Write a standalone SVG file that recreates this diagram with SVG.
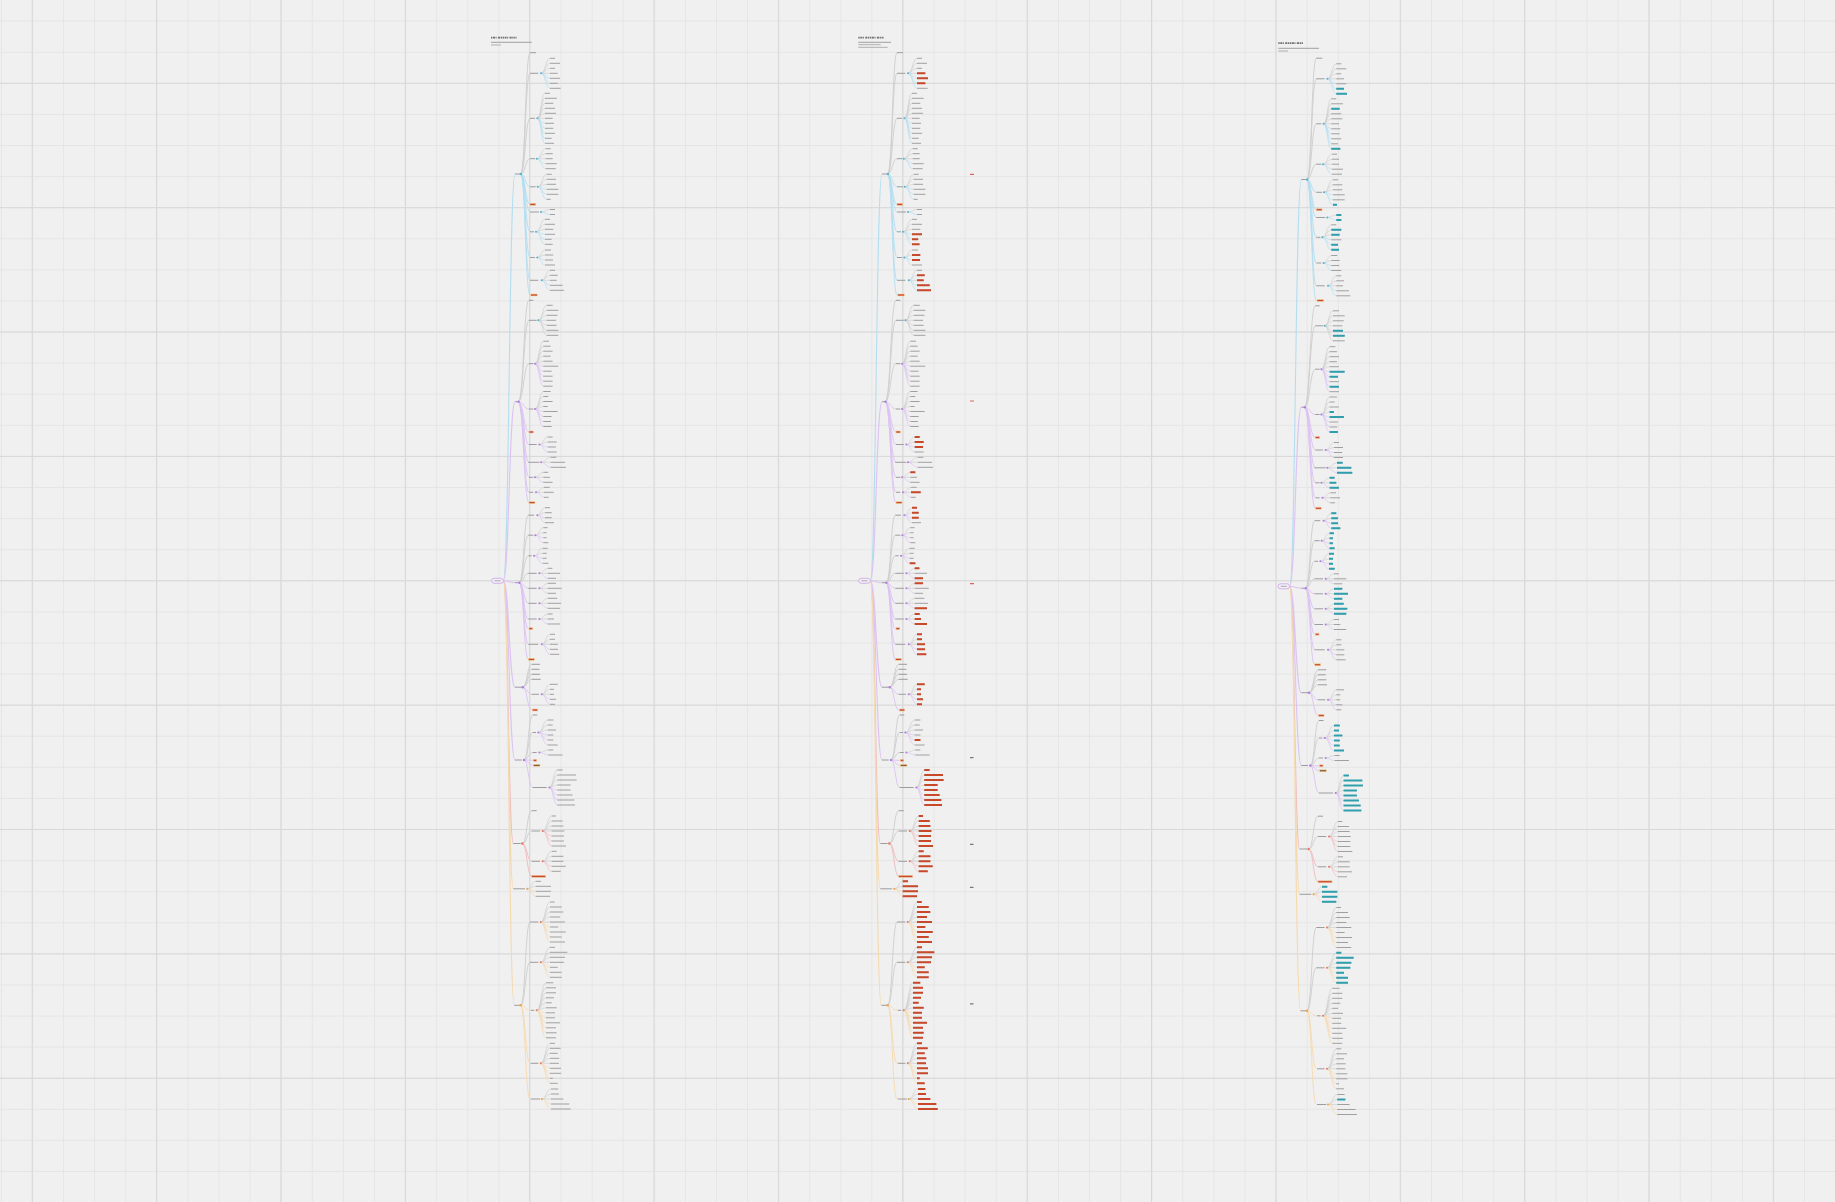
<svg xmlns="http://www.w3.org/2000/svg" width="1835" height="1202" viewBox="0 0 1835 1202">
<style>
.lf{fill:none;stroke:#a0a0a0;stroke-width:1}
.lb{fill:none;stroke:#939393;stroke-width:0.9}
.c0{fill:none;stroke-width:1.1}
.c1{fill:none;stroke-width:0.95}
.c2{fill:none;stroke-width:0.7}
.g{stroke:#cfcfcf}
.b{stroke:#b4def0}
.p{stroke:#dcc3f2}
.r{stroke:#efbcc0}
.o{stroke:#f5dab0}
.dB{fill:#4db6d6}.dP{fill:#b07ee2}.dR{fill:#e57a62}.dO{fill:#efa24e}
.hl{fill:#c94a2b;stroke:#f2c8a0;stroke-width:0.6}
.ttl{fill:none;stroke:#707070;stroke-width:1.7;stroke-dasharray:1.4 .6 2 .6 1 1.3 2.2 .6 1.3 .6}
.ul{stroke:#8a8a8a;stroke-width:0.8;fill:none}
.ul2{stroke:#b0b0b0;stroke-width:1;fill:none}
.red{fill:none;stroke:#c8482a;stroke-width:2}
.teal{fill:none;stroke:#2f9fae;stroke-width:2}
</style>
<defs>
<pattern id="gMinor" width="31.09" height="31.09" patternUnits="userSpaceOnUse" x="0.9" y="20.66"><path d="M0.5 0V31.09M0 0.5H31.09" stroke="#e5e5e5" stroke-width="1" fill="none"/></pattern>
<pattern id="gMajor" width="124.37" height="124.37" patternUnits="userSpaceOnUse" x="31.7" y="82.8"><path d="M0.5 0V124.37M0 0.5H124.37" stroke="#d8d8d8" stroke-width="1.2" fill="none"/></pattern>
<g id="tree">
<g id="t-connectors">
<path class="c0 b" d="M503.3 580.8c5.85 0 5.85-406.8 11.7-406.8"/>
<path class="c0 p" d="M503.3 580.8c5.85 0 5.85-179.1 11.7-179.1M503.3 580.8c5.85 0 5.85 1.9 11.7 1.9M503.3 580.8c5.85 0 5.85 106.4 11.7 106.4M503.3 580.8c5.85 0 5.85 179.2 11.7 179.2"/>
<path class="c0 r" d="M503.3 580.8c5 0 5 262.7 10 262.7"/>
<path class="c0 o" d="M503.3 580.8c5 0 5 308 10 308M503.3 580.8c5.5 0 5.5 424.5 11 424.5"/>
<path class="c1 g" d="M520.7 174c4.65 0 4.65-121.3 9.3-121.3M520.7 174c4.65 0 4.65-100.7 9.3-100.7M520.7 174c4.65 0 4.65-55.7 9.3-55.7M520.7 174c4.65 0 4.65-15.3 9.3-15.3M518.3 401.7c5.35 0 5.35-101.4 10.7-101.4M518.3 401.7c5.35 0 5.35-81.4 10.7-81.4M518.3 401.7c5.35 0 5.35-38 10.7-38M519.3 582.7c4.5 0 4.5-67.5 9-67.5M519.3 582.7c4.5 0 4.5-47.5 9-47.5M519.3 582.7c4.5 0 4.5-26.9 9-26.9M519.3 582.7c4.5 0 4.5-9.4 9-9.4M522.7 687.2c4.5 0 4.5-22.9 9-22.9M522.7 687.2c4.5 0 4.5-17.9 9-17.9M522.7 687.2c4.5 0 4.5-12.9 9-12.9M522.7 687.2c4.5 0 4.5-7.9 9-7.9M524 760c4.35 0 4.35-45 8.7-45M524 760c4.35 0 4.35-27.5 8.7-27.5M524 760c4.35 0 4.35-7.5 8.7-7.5M522.3 843.5c4.7 0 4.7-32.8 9.4-32.8M522.3 843.5c4.7 0 4.7-12.5 9.4-12.5M520.7 1005.3c4.65 0 4.65-83.3 9.3-83.3M520.7 1005.3c4.65 0 4.65-43 9.3-43"/>
<path class="c1 b" d="M520.7 174c4.65 0 4.65 12.8 9.3 12.8M520.7 174c4.65 0 4.65 30.3 9.3 30.3M520.7 174c4.65 0 4.65 38 9.3 38M520.7 174c4.65 0 4.65 57.8 9.3 57.8M520.7 174c4.65 0 4.65 83.5 9.3 83.5M520.7 174c4.65 0 4.65 106.3 9.3 106.3M520.7 174c4.65 0 4.65 121 9.3 121"/>
<path class="c1 p" d="M518.3 401.7c5.35 0 5.35 7.3 10.7 7.3M518.3 401.7c5.35 0 5.35 30.3 10.7 30.3M518.3 401.7c5.35 0 5.35 42.8 10.7 42.8M518.3 401.7c5.35 0 5.35 60.6 10.7 60.6M518.3 401.7c5.35 0 5.35 75.6 10.7 75.6M518.3 401.7c5.35 0 5.35 90.6 10.7 90.6M518.3 401.7c5.35 0 5.35 101 10.7 101M519.3 582.7c4.5 0 4.5 5.6 9 5.6M519.3 582.7c4.5 0 4.5 20.6 9 20.6M519.3 582.7c4.5 0 4.5 36.3 9 36.3M519.3 582.7c4.5 0 4.5 46 9 46M519.3 582.7c4.5 0 4.5 61.6 9 61.6M519.3 582.7c4.5 0 4.5 76.6 9 76.6M522.7 687.2c4.5 0 4.5 7.1 9 7.1M522.7 687.2c4.5 0 4.5 22.8 9 22.8M524 760c4.35 0 4.35 0.3 8.7 0.3M524 760c4.35 0 4.35 5.3 8.7 5.3M524 760c4.35 0 4.35 27.5 8.7 27.5"/>
<path class="c1 r" d="M522.3 843.5c4.7 0 4.7 17.8 9.4 17.8M522.3 843.5c4.7 0 4.7 32.8 9.4 32.8"/>
<path class="c1 o" d="M520.7 1005.3c4.65 0 4.65 5 9.3 5M520.7 1005.3c4.65 0 4.65 58 9.3 58M520.7 1005.3c4.65 0 4.65 93.7 9.3 93.7"/>
<path class="c2 g" d="M541 73.3c4.5 0 4.5-15 9-15M541 73.3c4.5 0 4.5-10 9-10M541 73.3c4.5 0 4.5-5 9-5M541 73.3h9M537.3 118.3c3.85 0 3.85-25 7.7-25M537.3 118.3c3.85 0 3.85-20 7.7-20M537.3 118.3c3.85 0 3.85-15 7.7-15M537.3 118.3c3.85 0 3.85-10 7.7-10M537.3 118.3c3.85 0 3.85-5 7.7-5M537.3 118.3h7.7M536.7 158.7c4.5 0 4.5-10 9-10M536.7 158.7c4.5 0 4.5-5 9-5M536.7 158.7h9M537.7 186.8c4.5 0 4.5-12.5 9-12.5M537.7 186.8c4.5 0 4.5-7.5 9-7.5M537.7 186.8c4.5 0 4.5-2.5 9-2.5M541 212c4.5 0 4.5-2.5 9-2.5M536 231.8c4.5 0 4.5-12.5 9-12.5M536 231.8c4.5 0 4.5-7.5 9-7.5M536 231.8c4.5 0 4.5-2.5 9-2.5M537.3 257.5c3.85 0 3.85-7.5 7.7-7.5M537.3 257.5c3.85 0 3.85-2.5 7.7-2.5M541.7 280.3c4.15 0 4.15-10 8.3-10M541.7 280.3c4.15 0 4.15-5 8.3-5M541.7 280.3h8.3
M538.3 320.3c4.2 0 4.2-15 8.4-15M538.3 320.3c4.2 0 4.2-10 8.4-10M538.3 320.3c4.2 0 4.2-5 8.4-5M538.3 320.3h8.4M538.3 320.3c4.2 0 4.2 5 8.4 5M538.3 320.3c4.2 0 4.2 10 8.4 10M538.3 320.3c4.2 0 4.2 15 8.4 15M535 363.7c4.15 0 4.15-22.5 8.3-22.5M535 363.7c4.15 0 4.15-17.5 8.3-17.5M535 363.7c4.15 0 4.15-12.5 8.3-12.5M535 363.7c4.15 0 4.15-7.5 8.3-7.5M535 363.7c4.15 0 4.15-2.5 8.3-2.5M535 409c4.15 0 4.15-17.5 8.3-17.5M535 409c4.15 0 4.15-12.5 8.3-12.5M535 409c4.15 0 4.15-7.5 8.3-7.5M535 409c4.15 0 4.15-2.5 8.3-2.5M539.3 444.5c4.2 0 4.2-7.5 8.4-7.5M539.3 444.5c4.2 0 4.2-2.5 8.4-2.5M541 462.3c4.85 0 4.85-5 9.7-5M541 462.3h9.7M535 477.3c4.15 0 4.15-5 8.3-5M535 477.3h8.3M536 492.3c4 0 4-5 8-5M536 492.3h8
M537.3 515.2c3.85 0 3.85-7.5 7.7-7.5M537.3 515.2c3.85 0 3.85-2.5 7.7-2.5M535.3 535.2c4 0 4-7.5 8-7.5M535.3 535.2c4 0 4-2.5 8-2.5M534 555.8c4.35 0 4.35-7.5 8.7-7.5M534 555.8c4.35 0 4.35-2.5 8.7-2.5M539.3 573.3c4.2 0 4.2-5 8.4-5M539.3 573.3h8.4M539.3 588.3c4.2 0 4.2-5 8.4-5M539.3 588.3h8.4M539.3 603.3c4.2 0 4.2-5 8.4-5M539.3 603.3h8.4M539.3 619c4.2 0 4.2-5 8.4-5M539.3 619h8.4M541.7 644.3c4.15 0 4.15-10 8.3-10M541.7 644.3c4.15 0 4.15-5 8.3-5M541.7 644.3h8.3
M541.7 694.3c4.15 0 4.15-10 8.3-10M541.7 694.3c4.15 0 4.15-5 8.3-5M541.7 694.3h8.3M538.3 732.5c4.7 0 4.7-12.5 9.4-12.5M538.3 732.5c4.7 0 4.7-7.5 9.4-7.5M538.3 732.5c4.7 0 4.7-2.5 9.4-2.5M539.3 752.5c4.5 0 4.5-2.5 9-2.5M549.3 787.5c4 0 4-17.5 8-17.5M549.3 787.5c4 0 4-12.5 8-12.5M549.3 787.5c4 0 4-7.5 8-7.5M549.3 787.5c4 0 4-2.5 8-2.5
M542.7 831c4.5 0 4.5-15 9-15M542.7 831c4.5 0 4.5-10 9-10M542.7 831c4.5 0 4.5-5 9-5M542.7 831h9M542.7 861.3c4.5 0 4.5-10 9-10M542.7 861.3c4.5 0 4.5-5 9-5M542.7 861.3h9M527.3 888.8c4.2 0 4.2-7.5 8.4-7.5M527.3 888.8c4.2 0 4.2-2.5 8.4-2.5
M540.7 922c4.65 0 4.65-20 9.3-20M540.7 922c4.65 0 4.65-15 9.3-15M540.7 922c4.65 0 4.65-10 9.3-10M540.7 922c4.65 0 4.65-5 9.3-5M540.7 922h9.3M540.7 962.3c4.65 0 4.65-15 9.3-15M540.7 962.3c4.65 0 4.65-10 9.3-10M540.7 962.3c4.65 0 4.65-5 9.3-5M540.7 962.3h9.3M536.7 1010.3c4.65 0 4.65-27.5 9.3-27.5M536.7 1010.3c4.65 0 4.65-22.5 9.3-22.5M536.7 1010.3c4.65 0 4.65-17.5 9.3-17.5M536.7 1010.3c4.65 0 4.65-12.5 9.3-12.5M536.7 1010.3c4.65 0 4.65-7.5 9.3-7.5M536.7 1010.3c4.65 0 4.65-2.5 9.3-2.5M540.7 1063.3c4.65 0 4.65-20 9.3-20M540.7 1063.3c4.65 0 4.65-15 9.3-15M540.7 1063.3c4.65 0 4.65-10 9.3-10M540.7 1063.3c4.65 0 4.65-5 9.3-5M540.7 1063.3h9.3M541.7 1099c4.65 0 4.65-10 9.3-10M541.7 1099c4.65 0 4.65-5 9.3-5M541.7 1099h9.3"/>
<path class="c2 b" d="M541 73.3c4.5 0 4.5 5 9 5M541 73.3c4.5 0 4.5 10 9 10M541 73.3c4.5 0 4.5 15 9 15M537.3 118.3c3.85 0 3.85 5 7.7 5M537.3 118.3c3.85 0 3.85 10 7.7 10M537.3 118.3c3.85 0 3.85 15 7.7 15M537.3 118.3c3.85 0 3.85 20 7.7 20M537.3 118.3c3.85 0 3.85 25 7.7 25M536.7 158.7c4.5 0 4.5 5 9 5M536.7 158.7c4.5 0 4.5 10 9 10M537.7 186.8c4.5 0 4.5 2.5 9 2.5M537.7 186.8c4.5 0 4.5 7.5 9 7.5M537.7 186.8c4.5 0 4.5 12.5 9 12.5M541 212c4.5 0 4.5 2.5 9 2.5M536 231.8c4.5 0 4.5 2.5 9 2.5M536 231.8c4.5 0 4.5 7.5 9 7.5M536 231.8c4.5 0 4.5 12.5 9 12.5M537.3 257.5c3.85 0 3.85 2.5 7.7 2.5M537.3 257.5c3.85 0 3.85 7.5 7.7 7.5M541.7 280.3c4.15 0 4.15 5 8.3 5M541.7 280.3c4.15 0 4.15 10 8.3 10"/>
<path class="c2 p" d="M535 363.7c4.15 0 4.15 2.5 8.3 2.5M535 363.7c4.15 0 4.15 7.5 8.3 7.5M535 363.7c4.15 0 4.15 12.5 8.3 12.5M535 363.7c4.15 0 4.15 17.5 8.3 17.5M535 363.7c4.15 0 4.15 22.5 8.3 22.5M535 409c4.15 0 4.15 2.5 8.3 2.5M535 409c4.15 0 4.15 7.5 8.3 7.5M535 409c4.15 0 4.15 12.5 8.3 12.5M535 409c4.15 0 4.15 17.5 8.3 17.5M539.3 444.5c4.2 0 4.2 2.5 8.4 2.5M539.3 444.5c4.2 0 4.2 7.5 8.4 7.5M541 462.3c4.85 0 4.85 5 9.7 5M535 477.3c4.15 0 4.15 5 8.3 5M536 492.3c4 0 4 5 8 5
M537.3 515.2c3.85 0 3.85 2.5 7.7 2.5M537.3 515.2c3.85 0 3.85 7.5 7.7 7.5M535.3 535.2c4 0 4 2.5 8 2.5M535.3 535.2c4 0 4 7.5 8 7.5M534 555.8c4.35 0 4.35 2.5 8.7 2.5M534 555.8c4.35 0 4.35 7.5 8.7 7.5M539.3 573.3c4.2 0 4.2 5 8.4 5M539.3 588.3c4.2 0 4.2 5 8.4 5M539.3 603.3c4.2 0 4.2 5 8.4 5M539.3 619c4.2 0 4.2 5 8.4 5M541.7 644.3c4.15 0 4.15 5 8.3 5M541.7 644.3c4.15 0 4.15 10 8.3 10
M541.7 694.3c4.15 0 4.15 5 8.3 5M541.7 694.3c4.15 0 4.15 10 8.3 10M538.3 732.5c4.7 0 4.7 2.5 9.4 2.5M538.3 732.5c4.7 0 4.7 7.5 9.4 7.5M538.3 732.5c4.7 0 4.7 12.5 9.4 12.5M539.3 752.5c4.5 0 4.5 2.5 9 2.5M549.3 787.5c4 0 4 2.5 8 2.5M549.3 787.5c4 0 4 7.5 8 7.5M549.3 787.5c4 0 4 12.5 8 12.5M549.3 787.5c4 0 4 17.5 8 17.5"/>
<path class="c2 r" d="M542.7 831c4.5 0 4.5 5 9 5M542.7 831c4.5 0 4.5 10 9 10M542.7 831c4.5 0 4.5 15 9 15M542.7 861.3c4.5 0 4.5 5 9 5M542.7 861.3c4.5 0 4.5 10 9 10"/>
<path class="c2 o" d="M527.3 888.8c4.2 0 4.2 2.5 8.4 2.5M527.3 888.8c4.2 0 4.2 7.5 8.4 7.5M540.7 922c4.65 0 4.65 5 9.3 5M540.7 922c4.65 0 4.65 10 9.3 10M540.7 922c4.65 0 4.65 15 9.3 15M540.7 922c4.65 0 4.65 20 9.3 20M540.7 962.3c4.65 0 4.65 5 9.3 5M540.7 962.3c4.65 0 4.65 10 9.3 10M540.7 962.3c4.65 0 4.65 15 9.3 15M536.7 1010.3c4.65 0 4.65 2.5 9.3 2.5M536.7 1010.3c4.65 0 4.65 7.5 9.3 7.5M536.7 1010.3c4.65 0 4.65 12.5 9.3 12.5M536.7 1010.3c4.65 0 4.65 17.5 9.3 17.5M536.7 1010.3c4.65 0 4.65 22.5 9.3 22.5M536.7 1010.3c4.65 0 4.65 27.5 9.3 27.5M540.7 1063.3c4.65 0 4.65 5 9.3 5M540.7 1063.3c4.65 0 4.65 10 9.3 10M540.7 1063.3c4.65 0 4.65 15 9.3 15M540.7 1063.3c4.65 0 4.65 20 9.3 20M541.7 1099c4.65 0 4.65 5 9.3 5M541.7 1099c4.65 0 4.65 10 9.3 10"/>
</g>
<g id="t-root"><rect x="491.7" y="578.3" width="11.6" height="5" rx="2.5" fill="#f3eef7" stroke="#c9a3e6" stroke-width="0.8"/><path d="M494.3 580.8h6.3" stroke="#ababab" stroke-width="1"/></g>
<g id="t-A"><path class="lb" d="M515 174h5"/><circle class="dB" cx="520.9" cy="174" r="1.2"/></g>
<g id="t-A1"><path class="lb" d="M530 52.7h6"/></g>
<g id="t-A2"><path class="lb" d="M530 73.3h8.3"/><circle class="dB" cx="541" cy="73.3" r="1"/><path class="lf" d="M550 58.3h5M550 63.3h10M550 68.3h5M550 73.3h7.7M550 78.3h10M550 83.3h7.7M550 88.3h10.7"/></g>
<g id="t-A3"><path class="lb" d="M530 118.3h5"/><circle class="dB" cx="537.3" cy="118.3" r="1"/><path class="lf" d="M545 93.3h5M545 98.3h11.7M545 103.3h8.3M545 108.3h10M545 113.3h11M545 118.3h7.7M545 123.3h9M545 128.3h8.3M545 133.3h10M545 138.3h6.7M545 143.3h9"/></g>
<g id="t-A4"><path class="lb" d="M530 158.7h5"/><circle class="dB" cx="536.7" cy="158.7" r="1"/><path class="lf" d="M545.7 148.7h5M545.7 153.7h7M545.7 158.7h7M545.7 163.7h11M545.7 168.7h10"/></g>
<g id="t-A5"><path class="lb" d="M530 186.8h5.7"/><circle class="dB" cx="537.7" cy="186.8" r="1"/><path class="lf" d="M546.7 174.3h5M546.7 179.3h9.3M546.7 184.3h9.3M546.7 189.3h11.7M546.7 194.3h11.7M546.7 199.3h4"/></g>
<g id="t-A6"><rect class="hl" x="530" y="203.3" width="5.7" height="2"/></g>
<g id="t-A7"><path class="lb" d="M530 212h9"/><circle class="dB" cx="541" cy="212" r="1"/><path class="lf" d="M550 209.5h5M550 214.5h5"/></g>
<g id="t-A8"><path class="lb" d="M530 231.8h4"/><circle class="dB" cx="536" cy="231.8" r="1"/><path class="lf" d="M545 219.3h5M545 224.3h10M545 229.3h8.3M545 234.3h10M545 239.3h6.7M545 244.3h7.7"/></g>
<g id="t-A9"><path class="lb" d="M530 257.5h5"/><circle class="dB" cx="537.3" cy="257.5" r="1"/><path class="lf" d="M545 250h6M545 255h8.3M545 260h8M545 265h10"/></g>
<g id="t-A10"><path class="lb" d="M530 280.3h8.3"/><circle class="dB" cx="541.7" cy="280.3" r="1"/><path class="lf" d="M550 270.3h5M550 275.3h7.7M550 280.3h6.7M550 285.3h12.7M550 290.3h14"/></g>
<g id="t-A11"><rect class="hl" x="530.7" y="294" width="6.6" height="2" style="stroke:#f5d9a0"/></g>
<g id="t-B"><path class="lb" d="M515 401.7h2.7"/><circle class="dP" cx="518.5" cy="401.7" r="1.2"/></g>
<g id="t-B1"><path class="lb" d="M529 300.3h4.3"/></g>
<g id="t-B2"><path class="lb" d="M529 320.3h7.7"/><circle class="dB" cx="538.3" cy="320.3" r="1"/><path class="lf" d="M546.7 305.3h6M546.7 310.3h11.7M546.7 315.3h10.7M546.7 320.3h9.3M546.7 325.3h10M546.7 330.3h11.7M546.7 335.3h11.7"/></g>
<g id="t-B3"><path class="lb" d="M529 363.7h4.3"/><circle class="dP" cx="535" cy="363.7" r="1"/><path class="lf" d="M543.3 341.2h5.7M543.3 346.2h7.3M543.3 351.2h9.3M543.3 356.2h7.3M543.3 361.2h9.3M543.3 366.2h15M543.3 371.2h8.3M543.3 376.2h9.3M543.3 381.2h9.3M543.3 386.2h9.3"/></g>
<g id="t-B4"><path class="lb" d="M529 409h4.3"/><circle class="dP" cx="535" cy="409" r="1"/><path class="lf" d="M543.3 391.5h7.3M543.3 396.5h5M543.3 401.5h9.3M543.3 406.5h4.3M543.3 411.5h14.3M543.3 416.5h8.3M543.3 421.5h7.7M543.3 426.5h8.3"/></g>
<g id="t-B5"><rect class="hl" x="529" y="431" width="4.3" height="2"/></g>
<g id="t-B6"><path class="lb" d="M529 444.5h7.7"/><circle class="dP" cx="539.3" cy="444.5" r="1"/><path class="lf" d="M547.7 437h5M547.7 442h9M547.7 447h8.3M547.7 452h9"/></g>
<g id="t-B7"><path class="lb" d="M528.3 462.3h11"/><circle class="dP" cx="541" cy="462.3" r="1"/><path class="lf" d="M550.7 457.3h5.7M550.7 462.3h14.3M550.7 467.3h15.3"/></g>
<g id="t-B8"><path class="lb" d="M529 477.3h4.3"/><circle class="dP" cx="535" cy="477.3" r="1"/><path class="lf" d="M543.3 472.3h5M543.3 477.3h6.7M543.3 482.3h9.3"/></g>
<g id="t-B9"><path class="lb" d="M529 492.3h4.3"/><circle class="dP" cx="536" cy="492.3" r="1"/><path class="lf" d="M544 487.3h5.7M544 492.3h9.7M544 497.3h4.7"/></g>
<g id="t-B10"><rect class="hl" x="529" y="501.7" width="6" height="2" style="stroke:#f5d9a0"/></g>
<g id="t-C"><path class="lb" d="M515 582.7h3"/><circle class="dP" cx="519.3" cy="582.7" r="1.2"/></g>
<g id="t-C1"><path class="lb" d="M528.3 515.2h5.7"/><circle class="dP" cx="537.3" cy="515.2" r="1"/><path class="lf" d="M545 507.7h5M545 512.7h6.7M545 517.7h6.7M545 522.7h9"/></g>
<g id="t-C2"><path class="lb" d="M528.3 535.2h5"/><circle class="dP" cx="535.3" cy="535.2" r="1"/><path class="lf" d="M543.3 527.7h4.3M543.3 532.7h3.3M543.3 537.7h3.3M543.3 542.7h5"/></g>
<g id="t-C3"><path class="lb" d="M528.3 555.8h3.4"/><circle class="dP" cx="534" cy="555.8" r="1"/><path class="lf" d="M542.7 548.3h5M542.7 553.3h4M542.7 558.3h4M542.7 563.3h5.7"/></g>
<g id="t-C4"><path class="lb" d="M528.3 573.3h8.4"/><circle class="dP" cx="539.3" cy="573.3" r="1"/><path class="lf" d="M547.7 568.3h4.7M547.7 573.3h12.3M547.7 578.3h8.3"/></g>
<g id="t-C5"><path class="lb" d="M528.3 588.3h8.4"/><circle class="dP" cx="539.3" cy="588.3" r="1"/><path class="lf" d="M547.7 583.3h8.3M547.7 588.3h14M547.7 593.3h8.3"/></g>
<g id="t-C6"><path class="lb" d="M528.3 603.3h8.4"/><circle class="dP" cx="539.3" cy="603.3" r="1"/><path class="lf" d="M547.7 598.3h9.7M547.7 603.3h13.3M547.7 608.3h12.3"/></g>
<g id="t-C7"><path class="lb" d="M528.3 619h8.4"/><circle class="dP" cx="539.3" cy="619" r="1"/><path class="lf" d="M547.7 614h5M547.7 619h6.3M547.7 624h12.3"/></g>
<g id="t-C8"><rect class="hl" x="529" y="627.7" width="3.7" height="2"/></g>
<g id="t-C9"><path class="lb" d="M528.3 644.3h10"/><circle class="dP" cx="541.7" cy="644.3" r="1"/><path class="lf" d="M550 634.3h5M550 639.3h5M550 644.3h8M550 649.3h8M550 654.3h9.3"/></g>
<g id="t-C10"><rect class="hl" x="528.3" y="658.3" width="6" height="2" style="stroke:#f5d9a0"/></g>
<g id="t-D"><path class="lb" d="M515 687.2h6.7"/><circle class="dP" cx="522.7" cy="687.2" r="1.2"/></g>
<g id="t-D1"><path class="lb" d="M531.7 664.3h8.3"/></g>
<g id="t-D2"><path class="lb" d="M531.7 669.3h7.7"/></g>
<g id="t-D3"><path class="lb" d="M531.7 674.3h8.3"/></g>
<g id="t-D4"><path class="lb" d="M531.7 679.3h9"/></g>
<g id="t-D5"><path class="lb" d="M531.7 694.3h7.3"/><circle class="dP" cx="541.7" cy="694.3" r="1"/><path class="lf" d="M550 684.3h7.7M550 689.3h4M550 694.3h4M550 699.3h6M550 704.3h5"/></g>
<g id="t-D6"><rect class="hl" x="532.3" y="709" width="5.4" height="2"/></g>
<g id="t-E"><path class="lb" d="M515 760h6.7"/><circle class="dP" cx="524" cy="760" r="1.2"/></g>
<g id="t-E1"><path class="lb" d="M532.7 715h4.6"/></g>
<g id="t-E2"><path class="lb" d="M532.7 732.5h3.3"/><circle class="dP" cx="538.3" cy="732.5" r="1"/><path class="lf" d="M547.7 720h5.7M547.7 725h5M547.7 730h8.3M547.7 735h5.7M547.7 740h5.7M547.7 745h10"/></g>
<g id="t-E3"><path class="lb" d="M532.7 752.5h4"/><circle class="dP" cx="539.3" cy="752.5" r="1"/><path class="lf" d="M548.3 750h5M548.3 755h14.3"/></g>
<g id="t-E4"><rect class="hl" x="533.3" y="759.3" width="3.4" height="2"/></g>
<g id="t-E5"><rect class="hl" x="533.3" y="764.3" width="6.7" height="2" style="fill:#8a5a3a;stroke:#f5d9a0"/></g>
<g id="t-E6"><path class="lb" d="M532.7 787.5h14"/><circle class="dP" cx="549.3" cy="787.5" r="1"/><path class="lf" d="M557.3 770h5.3M557.3 775h18.7M557.3 780h19.3M557.3 785h13.3M557.3 790h13.3M557.3 795h15.3M557.3 800h17M557.3 805h17.7"/></g>
<g id="t-F"><path class="lb" d="M513.3 843.5h7.4"/><circle class="dR" cx="522.3" cy="843.5" r="1.2"/></g>
<g id="t-F1"><path class="lb" d="M531.7 810.7h5"/></g>
<g id="t-F2"><path class="lb" d="M531.7 831h8.3"/><circle class="dR" cx="542.7" cy="831" r="1"/><path class="lf" d="M551.7 816h4.3M551.7 821h11M551.7 826h11.7M551.7 831h12.7M551.7 836h12.3M551.7 841h12.3M551.7 846h14.3"/></g>
<g id="t-F3"><path class="lb" d="M531.7 861.3h8.3"/><circle class="dR" cx="542.7" cy="861.3" r="1"/><path class="lf" d="M551.7 851.3h5M551.7 856.3h11.7M551.7 861.3h11.7M551.7 866.3h14M551.7 871.3h9"/></g>
<g id="t-F4"><rect class="hl" x="531.7" y="875.3" width="14" height="2"/></g>
<g id="t-G"><path class="lb" d="M513.3 888.8h11.7"/><circle class="dO" cx="527.3" cy="888.8" r="1.1"/><path class="lf" d="M535.7 881.3h5.3M535.7 886.3h15.3M535.7 891.3h15.3M535.7 896.3h14.3"/></g>
<g id="t-H"><path class="lb" d="M514.3 1005.3h5.7"/><circle class="dO" cx="520.7" cy="1005.3" r="1.2"/></g>
<g id="t-H1"><path class="lb" d="M530 922h8.3"/><circle class="dR" cx="540.7" cy="922" r="1"/><path class="lf" d="M550 902h4.7M550 907h11.7M550 912h13.3M550 917h10M550 922h15M550 927h8.3M550 932h15.7M550 937h11.7M550 942h15"/></g>
<g id="t-H2"><path class="lb" d="M530 962.3h8.3"/><circle class="dR" cx="540.7" cy="962.3" r="1"/><path class="lf" d="M550 947.3h5M550 952.3h17.3M550 957.3h15M550 962.3h14M550 967.3h7.7M550 972.3h11.7M550 977.3h11.7"/></g>
<g id="t-H3"><path class="lb" d="M530.7 1010.3h3.6"/><circle class="dR" cx="536.7" cy="1010.3" r="1"/><path class="lf" d="M546 982.8h7.3M546 987.8h10M546 992.8h10M546 997.8h8M546 1002.8h5.7M546 1007.8h10.7M546 1012.8h9M546 1017.8h9M546 1022.8h14M546 1027.8h10M546 1032.8h10.7M546 1037.8h10"/></g>
<g id="t-H4"><path class="lb" d="M530.7 1063.3h7.6"/><circle class="dR" cx="540.7" cy="1063.3" r="1"/><path class="lf" d="M550 1043.3h5M550 1048.3h10.7M550 1053.3h7.7M550 1058.3h9.3M550 1063.3h9M550 1068.3h11M550 1073.3h11M550 1078.3h2.7M550 1083.3h7.7"/></g>
<g id="t-H5"><path class="lb" d="M530.7 1099h9.3"/><circle class="dO" cx="541.7" cy="1099" r="1"/><path class="lf" d="M551 1089h7.3M551 1094h8M551 1099h12.3M551 1104h18.3M551 1109h19.7"/></g>
</g>
</defs>
<rect width="1835" height="1202" fill="#f0f0f0"/>
<rect width="1835" height="1202" fill="url(#gMinor)"/>
<rect width="1835" height="1202" fill="url(#gMajor)"/>
<g id="title1"><path class="ttl" d="M491 37.6h25.7"/><path class="ul" d="M491 42.3h40.7"/><path class="ul2" d="M491 45h10"/></g>
<g id="title2"><path class="ttl" d="M858.3 37.6h25.7"/><path class="ul" d="M858.3 42.3h32.7"/><path class="ul2" d="M858.3 44.7h22.4M858.3 47.3h29.4"/></g>
<g id="title3"><path class="ttl" d="M1278.3 43.2h25"/><path class="ul" d="M1278.3 48.3h40.7"/><path class="ul2" d="M1278.3 51h9.7"/></g>
<use id="tree1" href="#tree"/>
<use id="tree2" href="#tree" x="367"/>
<use id="tree3" href="#tree" x="786.3" y="5.5"/>
<g id="tree2-highlights"><path class="red" d="M917 73.3h8.4M917 78.3h11M917 83.3h8.4M912 234.3h10M912 239.3h6M912 244.3h7.5M912 255h8.3M912 260h8M917 275.3h7.7M917 280.3h6.7M917 285.3h12.7M917 290.3h14M914.7 437h5M914.7 442h9M914.7 447h8.3M910.3 472.3h5M911 492.3h9.7M912 507.7h5M912 512.7h6.7M912 517.7h6.7M909.7 563.3h5.7M914.7 568.3h4.7M914.7 578.3h8.3M914.7 583.3h8.3M914.7 608.3h12.3M914.7 614h5M914.7 619h6.3M914.7 624h12.3M917 634.3h5M917 639.3h5M917 644.3h8M917 649.3h8M917 654.3h9.3M917 684.3h7.7M917 689.3h4M917 694.3h4M917 699.3h6M917 704.3h5M914.7 740h5.7
M924.3 770h5.3M924.3 775h18.7M924.3 780h19.3M924.3 785h13.3M924.3 790h13.3M924.3 795h15.3M924.3 800h17M924.3 805h17.7M918.7 816h4.3M918.7 821h11M918.7 826h11.7M918.7 831h12.7M918.7 836h12.3M918.7 841h12.3M918.7 846h14.3M918.7 851.3h5M918.7 856.3h11.7M918.7 861.3h11.7M918.7 866.3h14M918.7 871.3h9M902.7 881.3h5.3M902.7 886.3h15.3M902.7 891.3h15.3M902.7 896.3h14.3
M917 902h4.7M917 907h11.7M917 912h13.3M917 917h10M917 922h15M917 927h8.3M917 932h15.7M917 937h11.7M917 942h15M917 947.3h5M917 952.3h17.3M917 957.3h15M917 962.3h14M917 967.3h7.7M917 972.3h11.7M917 977.3h11.7M913 982.8h7.3M913 987.8h10M913 992.8h10M913 997.8h8M913 1002.8h5.7M913 1007.8h10.7M913 1012.8h9M913 1017.8h9M913 1022.8h14M913 1027.8h10M913 1032.8h10.7M913 1037.8h10M917 1043.3h5M917 1048.3h10.7M917 1053.3h7.7M917 1058.3h9.3M917 1063.3h9M917 1068.3h11M917 1073.3h11M917 1078.3h2.7M917 1083.3h7.7M918 1089h7.3M918 1094h8M918 1099h12.3M918 1104h18.3M918 1109h19.7"/></g>
<g id="tree3-highlights"><path class="teal" d="M1336.3 88.8h7.7M1336.3 93.8h10.7M1331.3 108.8h8.3M1331.3 148.8h9M1333 204.8h4M1336.3 215h5M1336.3 220h5M1331.3 229.8h10M1331.3 234.8h8.3M1331.3 244.8h6.7M1331.3 249.8h7.7M1333 330.8h10M1333 335.8h11.7M1329.6 371.7h15M1329.6 376.7h8.3M1329.6 386.7h9.3M1329.6 412h4.3M1329.6 417h14.3M1329.6 432h8.3M1337 462.8h5.7M1337 467.8h14.3M1337 472.8h15.3M1329.6 477.8h5M1329.6 482.8h6.7M1329.6 487.8h9.3M1331.3 513.2h5M1331.3 518.2h6.7M1331.3 523.2h6.7M1331.3 528.2h9M1329.6 533.2h4.3M1329.6 538.2h3.3M1329.6 543.2h3.3M1329.6 548.2h5M1329 553.8h5M1329 558.8h4M1329 563.8h4M1329 568.8h5.7M1334 588.8h8.3M1334 593.8h14M1334 598.8h8.3M1334 603.8h9.7M1334 608.8h13.3M1334 613.8h12.3M1334 725.5h5.7M1334 730.5h5M1334 735.5h8.3M1334 740.5h5.7M1334 745.5h5.7M1334 750.5h10M1343.6 775.5h5.3M1343.6 780.5h18.7M1343.6 785.5h19.3M1343.6 790.5h13.3M1343.6 795.5h13.3M1343.6 800.5h15.3M1343.6 805.5h17M1343.6 810.5h17.7M1322 886.8h5.3M1322 891.8h15.3M1322 896.8h15.3M1322 901.8h14.3M1336.3 952.8h5M1336.3 957.8h17.3M1336.3 962.8h15M1336.3 967.8h14M1336.3 972.8h7.7M1336.3 977.8h11.7M1336.3 982.8h11.7M1337.3 1099.5h8"/></g>
<g id="tree2-notes"><path d="M970 174.4h4M970 401h4M970 583.7h4" stroke="#d9675a" stroke-width="1.2"/><path d="M970 757.6h3.5M970 844.3h3.5M970 887.3h3.5M970 1003.9h3.5" stroke="#777" stroke-width="1.2"/></g>
</svg>
